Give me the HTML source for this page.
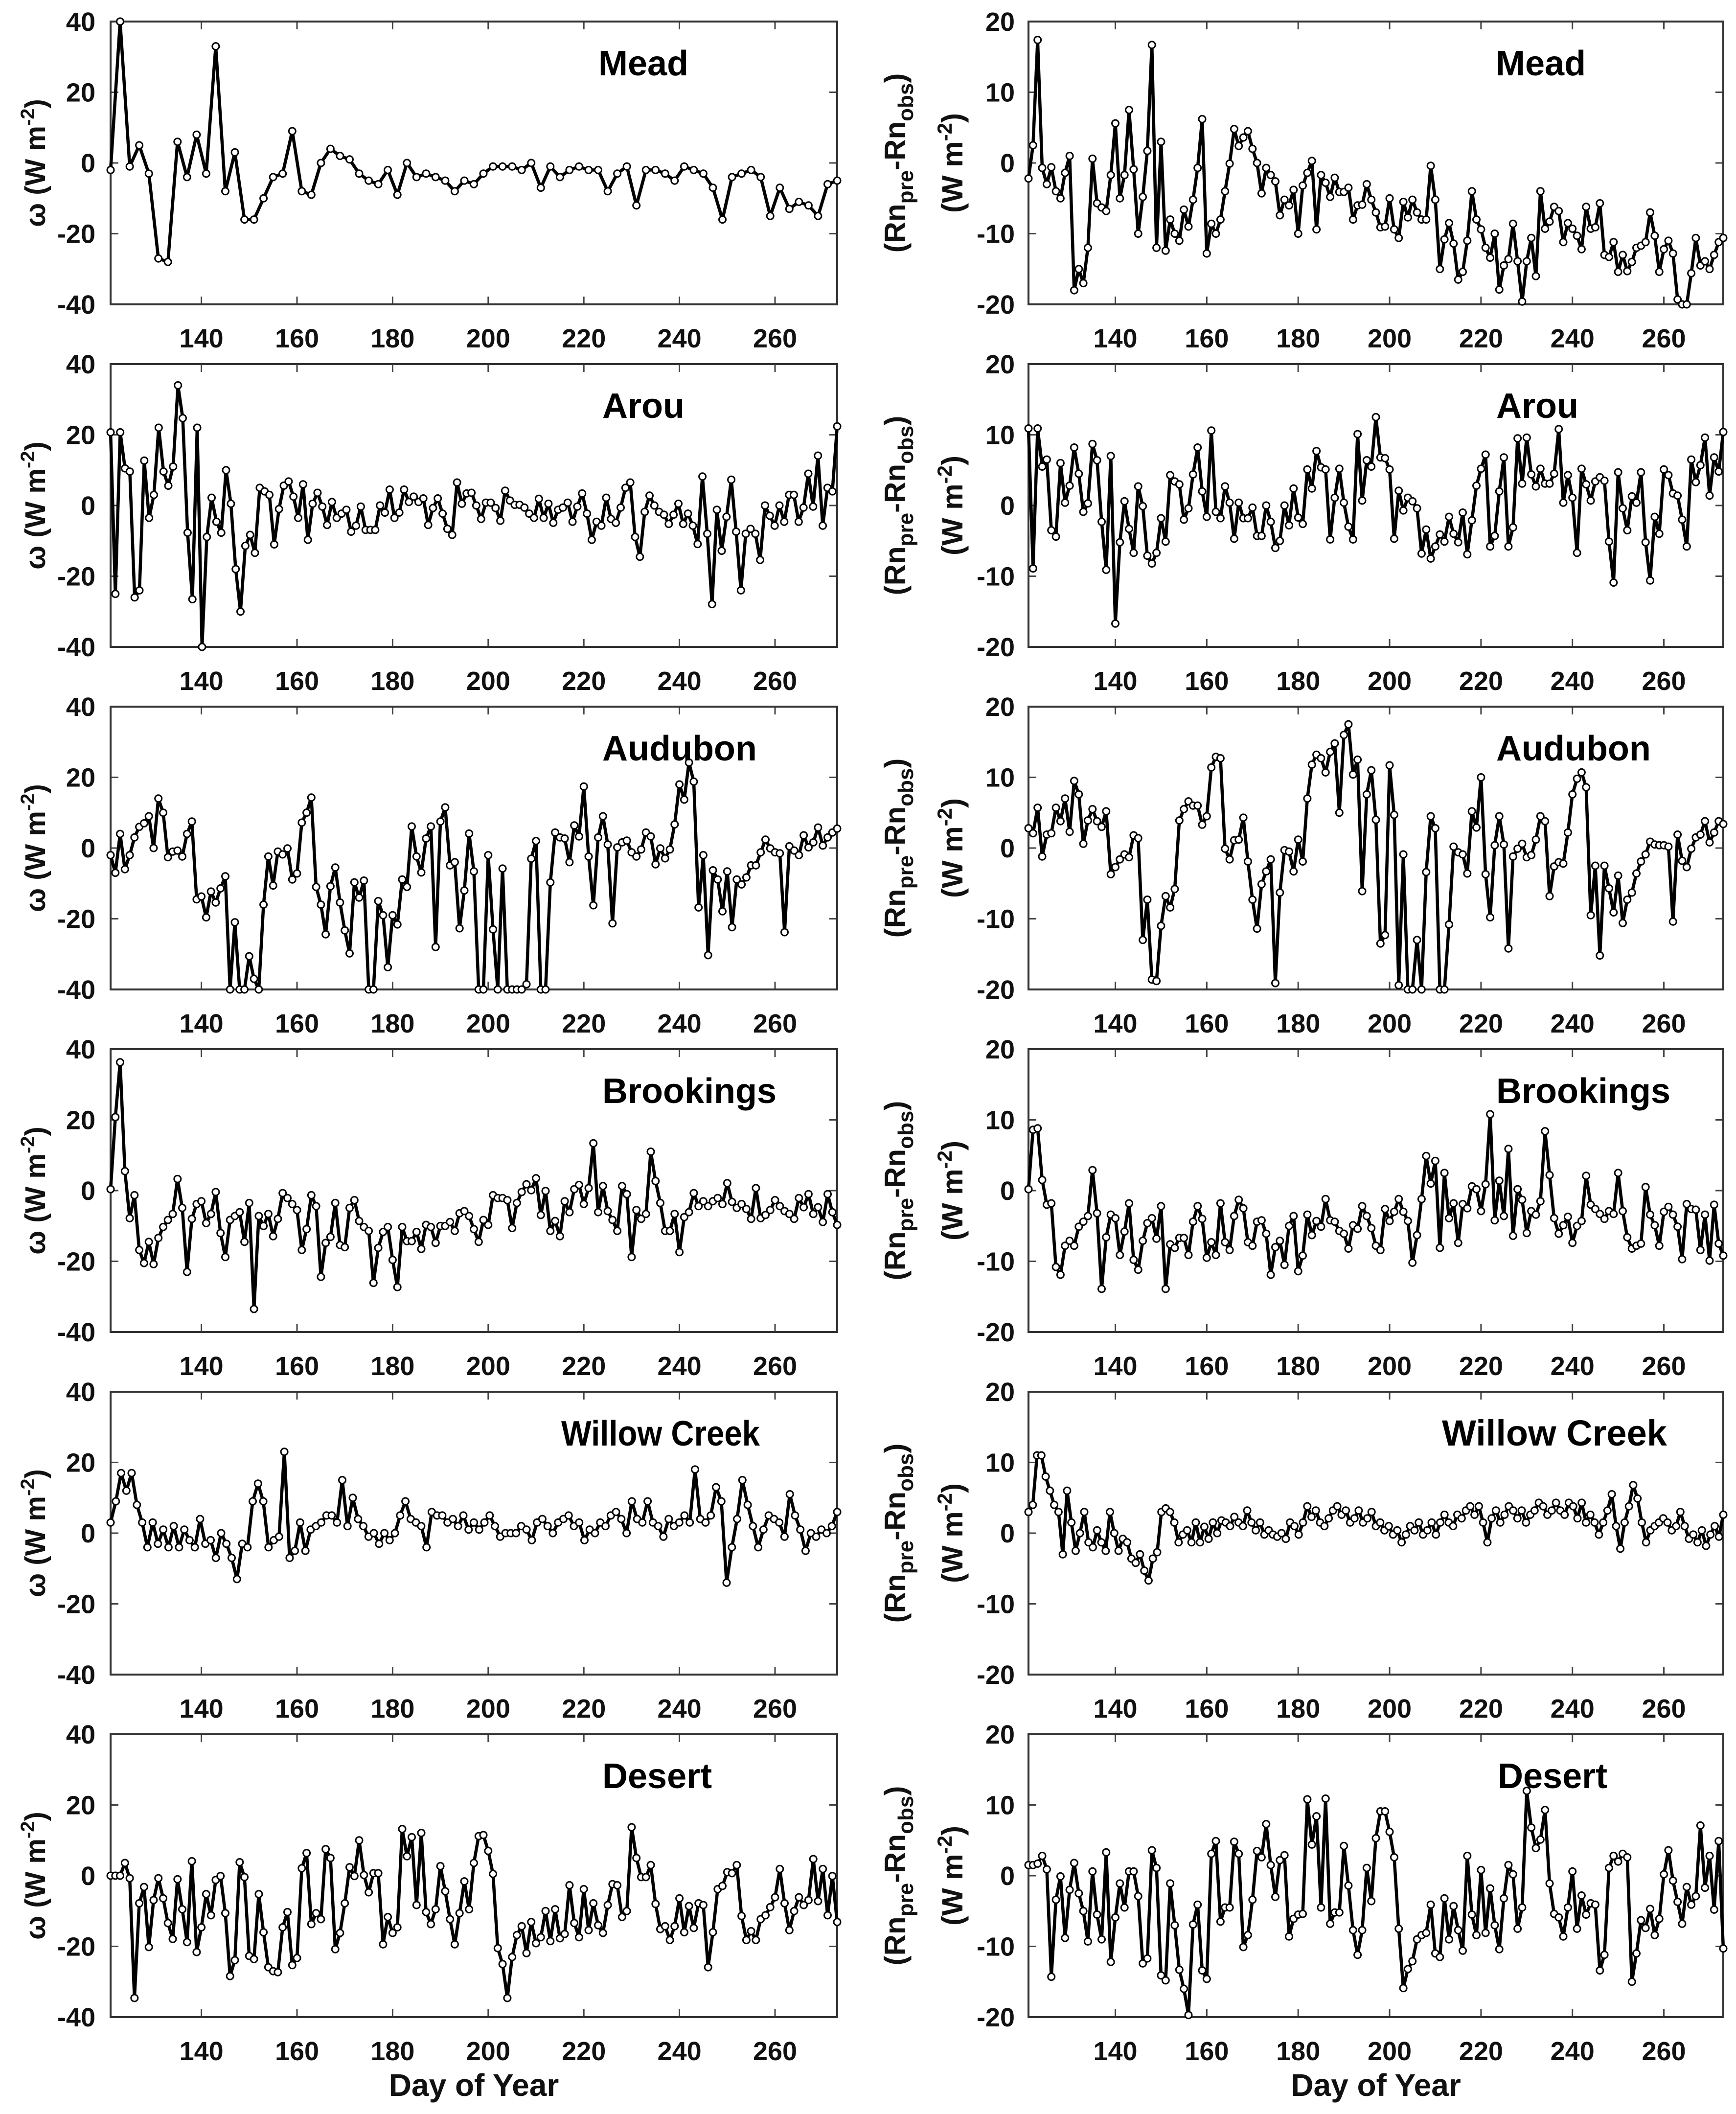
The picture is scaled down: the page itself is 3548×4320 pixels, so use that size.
<!DOCTYPE html>
<html><head><meta charset="utf-8"><style>
html,body{margin:0;padding:0;background:#fff;}
svg{display:block;font-family:"Liberation Sans",sans-serif;}
</style></head><body>
<svg id="fig" xmlns="http://www.w3.org/2000/svg" width="3548" height="4320" viewBox="0 0 3548 4320"></svg>
<script>
const sites = ["Mead","Arou","Audubon","Brookings","Willow Creek","Desert"];
const xTicks = [140,160,180,200,220,240,260];
const leftYTicks = [-40,-20,0,20,40];
const rightYTicks = [-20,-10,0,10,20];
const dayStart = 121;
const dayEnd = 273;

const meadOmega = [-2,40,-1,5,-3,-27,-28,6,-4,8,-3,33,-8,3,-16,-16,-10,-4,-3,9,-8,-9,0,4,2,1,-3,-5,-6,-2,-9,0,-4,-3,-4,-5,-8,-5,-6,-3,-1,-1,-1,-2,0,-7,-1,-4,-2,-1,-2,-2,-8,-3,-1,-12,-2,-2,-3,-5,-1,-2,-3,-7,-16,-4,-3,-2,-4,-15,-7,-13,-11,-12,-15,-6,-5];
const meadRn = [-2.2,2.5,17.4,-0.7,-3,-0.6,-4,-5,-1.4,1,-18,-15,-17,-12,0.6,-5.7,-6.3,-6.8,-1.7,5.6,-5,-1.7,7.5,-0.9,-10,-4.8,1.7,16.7,-12,3,-12.4,-8,-10,-11,-6.6,-9,-5.2,-0.7,6.2,-12.8,-8.6,-10,-8,-4,-0.1,4.8,2.4,3.6,4.5,2,0,-4.3,-0.7,-1.7,-2.6,-7.4,-5.2,-6,-3.8,-10,-3.2,-1.4,0.3,-9.4,-1.7,-2.8,-4.8,-2.1,-4.1,-4.1,-3.5,-8,-6,-5.9,-3,-5.2,-7,-9.1,-9,-5,-9.4,-10.6,-5.5,-7.7,-5.2,-7,-8,-8,-0.4,-5.2,-15,-10.8,-8.5,-11.4,-16.5,-15.4,-11,-4,-8,-9.4,-12,-13.4,-10,-17.9,-14.5,-13.6,-8.6,-13.9,-19.6,-13.9,-10.6,-16,-4,-9.3,-8.3,-6.2,-6.8,-11.2,-8.5,-9.3,-10.3,-12.2,-6.2,-9.3,-9.1,-5.7,-13,-13.3,-11.2,-15.4,-13,-15.3,-14,-12,-11.7,-11.2,-7,-10.3,-15.4,-12.2,-11,-12.8,-19.3,-20,-20,-15.6,-10.6,-14.5,-13.9,-15,-13,-11.2,-10.6];
const arouOmega = [20.7,-25,20.7,10.5,9.6,-26,-24,12.7,-3.5,3,22,9.6,5.6,11,34,24.7,-7.7,-26.5,22,-40,-8.9,2.2,-4.6,-7.7,10,0.5,-18,-30,-11.4,-8.3,-13.4,5,4,3,-11,-1,5.6,6.8,2.5,-3.5,6,-9.7,0.5,3.6,-0.3,-5.5,1,-3.5,-2.3,-1.2,-7.4,-5.7,-0.3,-6.9,-6.9,-6.9,0,-2,4.5,-3.5,-2,4.5,1,2.5,1,2,-5.5,-0.7,2,-2.3,-6.6,-8.3,6.5,0.5,3.4,3.6,0,-3.8,0.8,0.8,-0.7,-4.3,4.2,1.4,0.2,0.2,-0.6,-2.3,-3.5,1.9,-3.5,0.5,-4.9,-1.2,-0.6,0.8,-4.6,-0.3,3.4,-2.3,-9.7,-4.6,-5.7,2.2,-3.8,-4.9,-0.6,5,6.5,-8.9,-14.5,-1.8,2.8,0,-1.8,-2.6,-5.2,-2.6,0.5,-5.2,-2.3,-5.7,-10.9,8.2,-8,-27.9,-1.2,-12.8,-3.2,7.3,-7.4,-24,-8,-6.6,-8,-15.4,0,-2.9,-5.7,0,-4.6,3,3,-4.6,-0.6,9,-0.3,14.1,-5.7,5,4,22.4];
const arouRn = [10.9,-8.9,10.9,5.5,6.5,-3.5,-4.4,6,0.4,2.8,8.2,4.5,-0.9,0.3,8.7,6.4,-2.3,-9.1,7,-16.7,-5.2,0.6,-3.3,-6.7,2.7,-0.1,-7.1,-8.2,-6.7,-1.8,-5.1,4.3,3.4,3,-2,-0.4,4.4,8.2,2,-1.6,10.6,-0.9,-1.8,2.7,0.4,-4.7,0.4,-1.8,-1.8,-0.3,-4.3,-4.3,0,-2.3,-6,-5,0,-2.8,2.4,-1.7,-2.6,5.1,2.4,7.7,5.4,5.1,-4.8,1.1,5.2,0.4,-3,-4.8,10.1,0.7,6.4,5.5,12.5,6.8,6.7,5.1,-4.7,2.1,-0.7,1.1,0.6,-0.4,-6.8,-3.4,-7.5,-5.8,-4.1,-5.1,-1.6,-4,-5.2,-1,-6.9,-2.1,2.8,5.2,7.2,-5.8,-4.3,2,6.8,-5.8,-3.1,9.5,3.1,9.6,4.4,2.7,5.2,3.1,3.1,4.5,10.8,0.4,4.3,1.1,-6.7,5.2,3,0.7,3.4,4,3.5,-5.1,-10.9,4.7,-0.4,-3.5,1.3,0.4,4.7,-5.2,-10.6,-1.6,-4,5.1,4.3,1.7,1.4,-2,-5.8,6.5,3.3,5.7,9.6,1.4,6.8,4.8,10.4];
const audubonOmega = [-2,-7,4,-6,-2,3,6,7,9,0,14,10,-2.6,-1,-0.7,-2.4,4,7.5,-14.5,-13.7,-19.6,-12.3,-15.4,-11.4,-8,-40,-21,-40,-40,-30.6,-37,-40,-16,-2.4,-10.6,-1,-1.8,-0.1,-8.9,-7.2,7.2,10,14.3,-11,-16,-24.4,-10.8,-5.5,-15.4,-23.3,-29.8,-9.7,-14,-9.2,-40,-40,-15,-19,-33.7,-19,-21.6,-8.9,-11,6.1,-2.4,-6.9,2.7,6.1,-28,7.5,11.5,-4.9,-4,-22.7,-12,4.1,-6.6,-40,-40,-2,-23,-40,-5.8,-40,-40,-40,-40,-38.5,-3,2,-40,-40,-9.7,4.4,3,2.7,-4,6.4,3.3,17.4,-2.4,-16.2,3,9,1,-21.3,0.2,1.6,2.1,-1.2,-2.4,-0.4,4.4,3.3,-4.6,-0.1,-2.9,-0.4,6.7,18,13.7,24.2,18.8,-16.8,-2,-30.3,-6.3,-8.9,-17.9,-6.6,-22.4,-8.9,-10.3,-8.3,-4.9,-4.9,-1.2,2.4,-0.1,-1.2,-1.5,-23.8,0.5,-0.7,-2,3.6,0.2,1.6,5.8,0.7,3,4.4,5.5];
const audubonRn = [2.8,2.1,5.7,-1.2,1.9,2.1,5.7,3.8,7,2.3,9.5,7.6,0.6,3.9,5.5,3.8,3,5.2,-3.7,-2.7,-1.6,-0.9,-1.3,1.8,1.4,-13,-7.3,-18.6,-18.8,-11,-6.8,-8.4,-5.8,3.9,5.5,6.6,6,6,3.3,4.5,11.4,12.9,12.7,-0.1,-1.6,1.1,1.2,4.3,-1.9,-7.3,-11.4,-5.1,-3.3,-1.6,-19.1,-6.3,-0.3,-0.5,-3.3,1.2,-1.9,7,11.8,13.2,12.7,10.7,13.6,14.8,5,16,17.5,10.4,12.5,-6.1,7.6,11,4,-13.5,-12.3,11.7,4.7,-19.4,-0.9,-20,-20,-13,-20,-3.4,4.5,2.8,-20,-20,-10.8,0.2,-0.6,-0.9,-3.6,5.2,2.9,10,-3.7,-9.8,0.4,4.5,0.5,-14.2,-1.2,-0.1,0.6,-1.3,-1,1.2,4.5,3.8,-6.8,-2.6,-2,-2.2,2.2,7.6,9.8,10.7,8.6,-9.5,-2.5,-15.2,-2.5,-5.7,-9.1,-3.9,-10.6,-7.3,-6.3,-3.6,-1.9,-0.9,0.9,0.5,0.4,0.4,0.2,-10.4,1.9,-1.8,-2.7,-0.1,1.5,1.9,3.8,0.8,2.2,3.8,3.4];
const brookingsOmega = [0.4,20.8,36.3,5.5,-7.8,-1.3,-16.8,-20.5,-14.5,-20.8,-13.4,-10.3,-8.3,-6.6,3.3,-4.9,-23,-8,-3.8,-3,-9.2,-6.6,-0.4,-12,-18.8,-8.3,-7.2,-6.1,-14.5,-3.5,-33.5,-7.2,-10,-6.6,-12.9,-8,-0.7,-2.1,-3.8,-5.5,-16.8,-10.9,-1.3,-4.4,-24.4,-14.8,-13.1,-3.5,-15.4,-16,-4.9,-2.7,-8.6,-10.3,-11.4,-26.1,-16.2,-11.7,-10.3,-19.6,-27.3,-10.3,-14.3,-14.3,-11.7,-16.5,-9.7,-10.3,-14.8,-10,-10,-8.9,-11.4,-6.4,-5.8,-7.2,-10.9,-14.5,-8.3,-9.7,-1.3,-2.1,-2.1,-2.7,-10.6,-3.5,-0.4,1.8,0.1,3.5,-6.9,-0.1,-11.4,-8.6,-12.9,-3,-6.1,0.4,1.6,-3.8,0.7,13.4,-6.1,1.3,-5.8,-8.3,-11.4,1.3,-1,-18.8,-5.5,-8,-6.6,11,2.7,-3.5,-11.4,-11.4,-6.6,-17.4,-7.5,-6.1,-0.7,-4.4,-3,-4.4,-3,-2.1,-3.8,2.1,-3.2,-4.9,-3.8,-5.2,-8,0.7,-7.8,-6.9,-5.5,-2.7,-4.4,-5.8,-6.6,-8,-2.1,-4.7,-1,-6.6,-4.7,-8.9,-1,-6.1,-9.7];
const brookingsRn = [0.2,8.6,8.8,1.5,-2,-1.8,-10.8,-11.9,-7.8,-7.1,-7.8,-5.1,-4.4,-3.6,2.9,-3.2,-13.9,-6.6,-3.4,-3.9,-9.1,-5.8,-1.8,-9.8,-11.2,-7.1,-4.6,-3.9,-6.8,-2.2,-13.9,-7.6,-8.1,-6.7,-6.7,-9.1,-4.4,-2.2,-4,-9.5,-7.3,-9.1,-1.8,-7.3,-8.4,-3.6,-1.3,-2.5,-7.3,-7.8,-4.4,-4.2,-6.1,-11.9,-8,-7.1,-10.5,-5,-3.6,-11.4,-9.2,-3.4,-6.3,-4.3,-5.1,-1.2,-4.2,-4.4,-5.7,-6.1,-8.2,-4.9,-5.4,-2.2,-3.6,-5.3,-7.8,-8.4,-2.6,-4.3,-3,-1.2,-3,-4.3,-10.2,-6.3,-1.2,4.9,1,4.2,-8.1,2.5,-3.9,-1.8,-7.4,-1.9,-2.5,0.6,0.2,-2.9,0.9,10.8,-4.2,1.4,-3.6,5.9,-6.4,0.2,-1.3,-6,-2.9,-3.4,-1.5,8.4,2.2,-3.9,-6.1,-4.9,-3.7,-7.4,-5,-4.3,2.1,-2,-2.6,-3.3,-4,-2.9,-3.3,2.5,-2.9,-6.6,-8.2,-7.8,-7.5,0.5,-3.4,-4.9,-7.8,-3,-2.3,-3.4,-5.1,-9.7,-1.9,-2.6,-2.7,-8.4,-3.4,-9.9,-2,-7.5,-9.2];
const willowOmega = [3,9,17,12,17,8,3,-4,3,-3,1,-4,2,-4,1,-2,-4,4,-3,-2,-7,0,-3,-7,-13,-3,-4,9,14,9,-4,-2,-1,23,-7,-5,3,-5,1,2,3,5,5,3,15,2,10,4,2,-1,0,-3,0,-2,0,5,9,4,3,2,-4,6,5,5,3,4,2,5,1,3,1,3,5,2,-1,0,0,0,2,1,-2,3,4,2,0,3,4,5,2,3,-2,1,0,3,2,5,6,4,0,9,4,3,9,3,2,-1,4,2,3,5,3,18,4,3,5,13,9,-14,-4,4,15,8,2,-4,1,5,4,3,-1,11,5,1,-5,0,-1,1,0,2,6];
const willowRn = [3,4,11,11,8,6,4,3,-3,6,1.5,-2.5,0,3,-1.3,-2,0.4,-1.3,-2.5,3,0,-2.5,-0.8,-1.3,-3.6,-4.2,-3,-5.3,-6.7,-3.6,-2.7,3,3.5,3,1.5,-1.3,-0.2,0.4,-1.3,1.5,-1.3,0.9,-0.8,1.5,0,1.8,1.5,1,2.3,1.5,1,3.2,1.5,0.4,1.5,-0.2,0.4,-0.2,-0.5,0,-0.8,1.5,1,-0.2,1.5,3.8,2.3,3.2,1.5,1,2.1,3.2,3.8,2.6,3.2,1.5,2.1,3.2,1.5,2.1,3,1,1.5,0.4,1,-0.2,0.4,-1.3,-0.2,1,0.4,1.5,-0.2,0.4,1.5,-0.2,1.5,2.6,1.5,1,2.6,2.1,3.2,3.8,2.6,3.8,1.5,-1.3,2.1,3.2,1.5,2.6,3.8,3.2,2.1,3.2,1.5,2.6,3.2,4.3,3.8,2.6,3.2,4.3,3.2,2.6,4.3,3.8,2.1,4.3,1.5,2.6,1.5,-0.2,1.5,3.2,5.5,1,-2.2,1.5,3.8,6.8,4.9,1.5,-1.3,0.4,1,1.5,2.1,1.5,0.4,1,3,1,-0.8,-0.2,-1.3,0.4,-1.8,-0.2,1,-0.5,2.6];
const desertOmega = [0,0,0,3.6,-0.7,-34.6,-7.8,-3.2,-20.2,-6.9,-0.7,-6.4,-13.4,-17.9,-1,-9.5,-18.8,4.1,-21.6,-14.6,-5.2,-11.2,-1.2,-0.1,-10.6,-28.4,-23.9,3.8,-0.4,-22.7,-23.6,-5.2,-16,-25.9,-27,-27.3,-14.6,-10.3,-25.3,-23.3,2.1,6.4,-13.7,-10.6,-12.3,7.5,5,-20.8,-16.2,-7.8,2.4,-0.1,10,0.2,-4.7,0.7,0.7,-19.4,-11.7,-16.2,-14.6,13.2,5.5,10.9,-8.3,12.1,-10.3,-13.7,-9.5,2.7,-4.4,-12.3,-19.4,-10.6,-1.6,-9.5,3.6,11.2,11.5,7,0.5,-20.5,-25,-34.6,-23,-16.8,-14.3,-21.9,-13.1,-19.1,-17.4,-10,-18.5,-9.5,-17.7,-16.5,-2.7,-13.4,-17.4,-3.8,-15.4,-7.8,-14,-16.2,-8.3,-2.4,-2.7,-11.7,-10,13.7,5,-0.4,-0.4,3,-8,-15.1,-14.3,-18.2,-14.3,-6.4,-16,-8.6,-14.8,-7.8,-8.3,-25.9,-16,-3.8,-2.9,1,0.7,3,-11.4,-18.2,-15.7,-18.2,-12.3,-11.2,-8.9,-6.1,1.9,-7.8,-15.4,-10,-6.1,-8.3,-6.9,4.7,-7.2,1.9,-11.2,-0.1,-13.1];
const desertRn = [1.5,1.5,1.7,2.8,0.9,-14.3,-3.4,-0.1,-8.8,-2,1.8,-2.5,-5,-9.3,0.6,-5.5,-9,3.3,-12.2,-5.9,-1.1,-4.5,0.6,0.6,-2.9,-12.4,-11.7,3.6,1.1,-14.1,-14.8,-1.1,-7,-13.3,-16,-19.7,-6.9,-4.1,-13.4,-14.6,3.1,4.9,-6.5,-4.5,-4.5,4.8,3.1,-10.1,-8.4,-3.4,3.5,2.6,7.3,1.5,-3,2.2,2.9,-8.6,-6.1,-5.5,-5.4,10.8,4.4,8.4,-4.5,10.9,-6.8,-5.2,-5.2,4.2,-1.4,-7.7,-11.2,-7.7,1.1,-3.6,5.3,9.1,9.1,6.2,2.6,-7.5,-15.9,-13.2,-12.1,-9,-8.4,-8.1,-4.1,-11,-11.5,-3.2,-9,-4.3,-7.7,-10.6,2.8,-5.5,-8.4,0.8,-8.1,-1.8,-7,-10.4,-3.2,1.5,0.2,-7.5,-4.5,12,6.8,3.9,5.1,9.3,-1.1,-5.4,-5.9,-8.6,-4.5,0.6,-7.5,-2.8,-5.5,-3.9,-4.1,-13.4,-11.2,1.1,2.8,2,3.1,2.6,-15,-11,-6.3,-7.4,-4.7,-8.4,-6.1,0.2,3.6,-0.7,-3.7,-6.8,-1.6,-4.1,-2.9,7.1,-1.7,2.8,-4.8,4.9,-10.3];

const leftSeries = [meadOmega, arouOmega, audubonOmega, brookingsOmega, willowOmega, desertOmega];
const rightSeries = [meadRn, arouRn, audubonRn, brookingsRn, willowRn, desertRn];

const NS = "http://www.w3.org/2000/svg";
const svg = document.getElementById("fig");
const ROW_TOP = 44, ROW_STEP = 700, PH = 578;
const COLS = [{x0:226,x1:1711,yMin:-40,yMax:40,ticks:leftYTicks,labX:195,siteX:[1223,1231,1231,1231,1147,1231],siteF:[72,72,72,72,72,72]},
              {x0:2102,x1:3522,yMin:-20,yMax:20,ticks:rightYTicks,labX:2074,siteX:[3057,3058,3058,3058,2947,3061],siteF:[72,72,72,72,74,72]}];

function mk(tag, attrs, parent){
  const e = document.createElementNS(NS, tag);
  for (const k in attrs) e.setAttribute(k, attrs[k]);
  (parent||svg).appendChild(e);
  return e;
}

for (let c = 0; c < 2; c++) {
  const col = COLS[c];
  for (let r = 0; r < 6; r++) {
    const top = ROW_TOP + r*ROW_STEP, bot = top + PH;
    const xs = d => col.x0 + (d - dayStart) / (dayEnd - dayStart) * (col.x1 - col.x0);
    const ys = v => bot - (v - col.yMin) / (col.yMax - col.yMin) * PH;
    const g = mk("g", {});
    
    
    for (const t of xTicks) {
      const x = xs(t);
      const tk = mk("path", {d:`M${x},${bot}v-16M${x},${top}v16`, stroke:"#444", "stroke-width":3}, g);
      
      
      const tl = mk("text", {x:x, y:bot+88, "text-anchor":"middle", "font-size":54, "font-weight":"bold", fill:"#111"}, g);
      tl.textContent = t;
      
      
    }
    for (const t of col.ticks) {
      const y = ys(t);
      const tk = mk("path", {d:`M${col.x0},${y}h16M${col.x1},${y}h-16`, stroke:"#444", "stroke-width":3}, g);
      
      
      const tl = mk("text", {x:col.labX, y:y+19, "text-anchor":"end", "font-size":54, "font-weight":"bold", fill:"#111"}, g);
      tl.textContent = t;
      
      
    }
    const box = mk("rect", {x:col.x0, y:top, width:col.x1-col.x0, height:PH, fill:"none", stroke:"#333", "stroke-width":4}, g);
    
    
    const vals = (c===0?leftSeries:rightSeries)[r];
    const n = vals.length;
    const days = vals.map((v,i) => dayStart + i*(dayEnd-dayStart)/(n-1));
    const pts = vals.map((v,i) => xs(days[i]).toFixed(1)+","+ys(Math.max(col.yMin,Math.min(col.yMax,v))).toFixed(1));
    const line = mk("polyline", {points:pts.join(" "), fill:"none", stroke:"#000", "stroke-width":6.5, "stroke-linejoin":"round"}, g);
    
    
    for (let i = 0; i < n; i++) {
      const v = Math.max(col.yMin, Math.min(col.yMax, vals[i]));
      const m = mk("circle", {cx:xs(days[i]).toFixed(1), cy:ys(v).toFixed(1), r:7, fill:"#fff", stroke:"#000", "stroke-width":3}, g);
      
      
    }
    const slAttrs = {x:col.siteX[r], y:top+110, "font-size":col.siteF[r], "font-weight":"bold", fill:"#000"};
    if (c === 0 && r === 4) { slAttrs.textLength = 406; slAttrs.lengthAdjust = "spacingAndGlyphs"; }
    const sl = mk("text", slAttrs, g);
    sl.textContent = sites[r];
    
    
    const cy = top + PH/2;
    if (c === 0) {
      const yl = mk("text", {x:0, y:0, transform:`translate(92,${cy}) rotate(-90)`, "text-anchor":"middle", "font-size":58, "font-weight":"bold", fill:"#111"}, g);
      yl.innerHTML = 'ω (W m<tspan dy="-22" font-size="40">-2</tspan><tspan dy="22">)</tspan>';
      
      
    } else {
      const y1 = mk("text", {x:0, y:0, transform:`translate(1850,${cy}) rotate(-90)`, "text-anchor":"middle", "font-size":60, "font-weight":"bold", fill:"#111"}, g);
      y1.innerHTML = '(Rn<tspan dy="16" font-size="44">pre</tspan><tspan dy="-16">-Rn</tspan><tspan dy="16" font-size="44">obs</tspan><tspan dy="-16">)</tspan>';
      
      
      const y2 = mk("text", {x:0, y:0, transform:`translate(1967,${cy}) rotate(-90)`, "text-anchor":"middle", "font-size":60, "font-weight":"bold", fill:"#111"}, g);
      y2.innerHTML = '(W m<tspan dy="-22" font-size="42">-2</tspan><tspan dy="22">)</tspan>';
      
      
    }
  }
  const xl = mk("text", {x:(col.x0+col.x1)/2, y:4283, "text-anchor":"middle", "font-size":64, "font-weight":"bold", fill:"#111"});
  xl.textContent = "Day of Year";
  
  
}
</script>
</body></html>
